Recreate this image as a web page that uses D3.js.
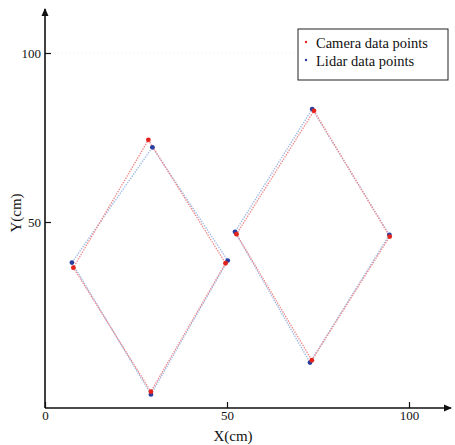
<!DOCTYPE html>
<html>
<head>
<meta charset="utf-8">
<script src="https://cdn.jsdelivr.net/npm/d3@7"></script>
<style>
  body { margin: 0; background: #fff; }
  text { font-family: "Liberation Serif", "DejaVu Serif", serif; fill: #111; }
</style>
</head>
<body>
<div id="chart"></div>
<script>
// diamond corners, order: top, right, bottom, left
const cameraLeft = [[28.4, 74.3], [49.6, 37.8], [29.1, -0.2], [7.8, 36.5]];
const lidarLeft = [[29.5, 72.1], [50.2, 38.6], [29.1, -1.0], [7.4, 38.0]];
const cameraRight = [[73.9, 82.9], [94.7, 45.7], [73.3, 9.1], [52.6, 46.4]];
const lidarRight = [[73.4, 83.4], [94.6, 46.2], [72.8, 8.4], [52.2, 47.1]];
const xTicks = [0, 50, 100];
const yTicks = [50, 100];
const seriesNames = ['Camera data points', 'Lidar data points'];

const W = 455, H = 445;
const x = d3.scaleLinear().domain([0, 100]).range([45, 409]);
const y = d3.scaleLinear().domain([0, 100]).range([391, 53]);
const AXIS_Y = 408, AXIS_X = 45;
const SERIF = '"Liberation Serif", "DejaVu Serif", serif';

const svg = d3.select('#chart').append('svg')
    .attr('width', W).attr('height', H);

svg.append('defs').append('marker')
    .attr('id', 'arrow')
    .attr('markerWidth', 8).attr('markerHeight', 8)
    .attr('refX', 7).attr('refY', 4)
    .attr('orient', 'auto')
    .attr('markerUnits', 'userSpaceOnUse')
    .append('path')
    .attr('d', 'M0,0.5L8,4L0,7.5z')
    .attr('fill', '#111');

// faint grid
svg.append('line')
    .attr('x1', AXIS_X).attr('x2', 409)
    .attr('y1', y(100)).attr('y2', y(100))
    .attr('stroke', '#ddd').attr('stroke-width', 0.6)
    .attr('stroke-dasharray', '1,3');

// axes
const xAxis = svg.append('g')
    .attr('transform', `translate(0,${AXIS_Y})`)
    .call(d3.axisBottom(x).tickValues(xTicks).tickSizeInner(-6).tickSizeOuter(0).tickPadding(2))
    .attr('font-family', SERIF).attr('font-size', 13);
xAxis.select('.domain').remove();
xAxis.selectAll('.tick line').attr('stroke', '#111').attr('stroke-width', 1.2);
xAxis.selectAll('.tick text').attr('y', 3).attr('dy', '0.71em').attr('fill', '#111');

const yAxis = svg.append('g')
    .attr('transform', `translate(${AXIS_X},0)`)
    .call(d3.axisLeft(y).tickValues(yTicks).tickSizeInner(-6).tickSizeOuter(0).tickPadding(4))
    .attr('font-family', SERIF).attr('font-size', 13);
yAxis.select('.domain').remove();
yAxis.selectAll('.tick line').attr('stroke', '#111').attr('stroke-width', 1.2);
yAxis.selectAll('.tick text').attr('x', -4).attr('fill', '#111');

svg.append('line')
    .attr('x1', AXIS_X).attr('y1', AXIS_Y).attr('x2', 451).attr('y2', AXIS_Y)
    .attr('stroke', '#111').attr('stroke-width', 1.6)
    .attr('marker-end', 'url(#arrow)');
svg.append('line')
    .attr('x1', AXIS_X).attr('y1', AXIS_Y).attr('x2', AXIS_X).attr('y2', 9)
    .attr('stroke', '#111').attr('stroke-width', 1.6)
    .attr('marker-end', 'url(#arrow)');

svg.append('text')
    .attr('x', 233).attr('y', 441)
    .attr('text-anchor', 'middle')
    .attr('font-size', 15)
    .text('X(cm)');
svg.append('text')
    .attr('transform', 'translate(21,213) rotate(-90)')
    .attr('text-anchor', 'middle')
    .attr('font-size', 15)
    .text('Y(cm)');

// diamonds
const series = [
    { pts: lidarLeft, line: '#9fbbe6', dot: '#2b3d9e' },
    { pts: lidarRight, line: '#9fbbe6', dot: '#2b3d9e' },
    { pts: cameraLeft, line: '#f08a8a', dot: '#e3231c' },
    { pts: cameraRight, line: '#f08a8a', dot: '#e3231c' },
];
const line = d3.line().x((d) => x(d[0])).y((d) => y(d[1])).curve(d3.curveLinearClosed);

const shapes = svg.append('g');
shapes.selectAll('path')
    .data(series)
    .join('path')
    .attr('d', (d) => line(d.pts))
    .attr('fill', 'none')
    .attr('stroke', (d) => d.line)
    .attr('stroke-width', 1.4)
    .attr('stroke-dasharray', '1.4,1.2');

const dots = svg.append('g');
series.forEach((s) => {
    dots.append('g').selectAll('circle')
        .data(s.pts)
        .join('circle')
        .attr('cx', (d) => x(d[0]))
        .attr('cy', (d) => y(d[1]))
        .attr('r', 2.4)
        .attr('fill', s.dot);
});

// legend
const legend = svg.append('g').attr('transform', 'translate(298,29)');
legend.append('rect')
    .attr('width', 150).attr('height', 51)
    .attr('fill', '#fff').attr('stroke', '#222').attr('stroke-width', 1);
const legendColors = ['#e3231c', '#2b3d9e'];
seriesNames.forEach((name, i) => {
    legend.append('circle')
        .attr('cx', 8).attr('cy', 13 + i * 18)
        .attr('r', 1.2).attr('fill', legendColors[i]);
    legend.append('text')
        .attr('x', 18).attr('y', 19 + i * 18)
        .attr('font-size', 14.5)
        .text(name);
});
</script>
</body>
</html>
